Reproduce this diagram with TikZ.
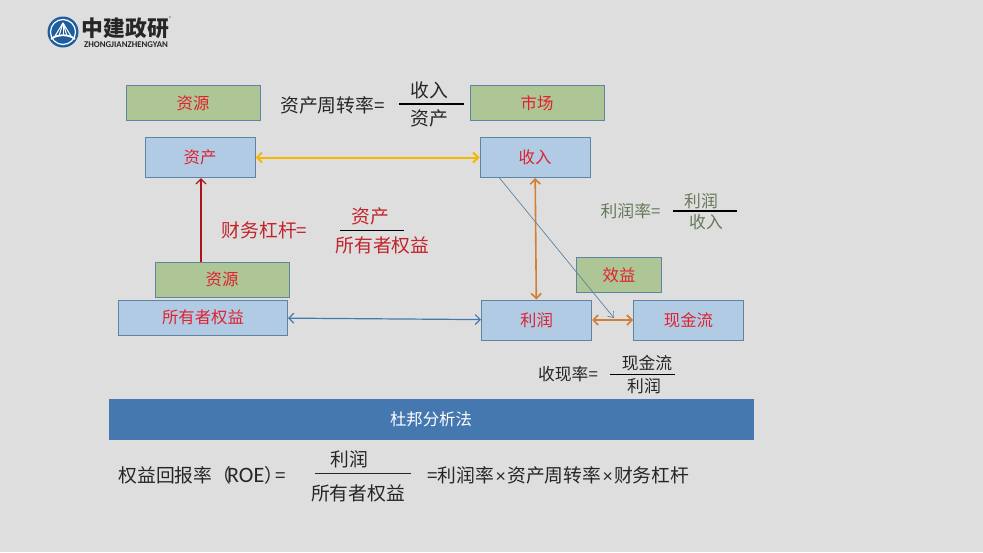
\documentclass[tikz,border=0pt]{standalone}
\usepackage{fontspec}
\setmainfont{Noto Sans CJK SC}
\newfontfamily\latinfont{Carlito}
\usepackage{tikz}
\usetikzlibrary{arrows.meta}
\definecolor{slidebg}{HTML}{DEDEDE}
\definecolor{boxblue}{HTML}{B2CBE4}
\definecolor{boxgreen}{HTML}{AEC596}
\definecolor{boxline}{HTML}{5E84A3}
\definecolor{bannerblue}{HTML}{4678B0}
\definecolor{boxred}{HTML}{E0222E}
\definecolor{darkred}{HTML}{A8161C}
\definecolor{leverred}{HTML}{C2242C}
\definecolor{olivetext}{HTML}{66795A}
\definecolor{inktext}{HTML}{262626}
\definecolor{logoblue}{HTML}{1F5E9E}
\definecolor{linkyellow}{HTML}{F5B800}
\definecolor{linkorange}{HTML}{D27F35}
\tikzset{
    bluebox/.style={draw=boxline, fill=boxblue, line width=0.5pt, text=boxred, font=\fontsize{8.2}{10}\selectfont, minimum width=55pt, minimum height=20pt, inner sep=0pt}, % 蓝色方框
    greenbox/.style={draw=boxline, fill=boxgreen, line width=0.5pt, text=boxred, font=\fontsize{8.2}{10}\selectfont, minimum width=67pt, minimum height=17.5pt, inner sep=0pt}, % 绿色方框
    formula/.style={inner sep=0pt, font=\fontsize{9.4}{11}\selectfont}, % 公式文字
    small formula/.style={inner sep=0pt, font=\fontsize{8.4}{10}\selectfont}, % 小号公式文字
    fracbar/.style={line width=0.6pt}, % 分数线
    both tips/.style={{Straight Barb[length=2.5pt,width=5pt]}-{Straight Barb[length=2.5pt,width=5pt]}}
}
\begin{document}
\begin{tikzpicture}[x=0.5pt, y=-0.5pt]
    \useasboundingbox (0,0) rectangle (983,552);
    \fill[slidebg] (0,0) rectangle (983,552);

    % logo
    \fill[logoblue] (63,32) circle (15.5);
    \draw[white, line width=0.6pt] (63,32) circle (12.5);
    \foreach \x in {-8,-4,0,4,8} {\draw[white, line width=0.5pt] (63,23) -- (63+\x,36);}
    \draw[white, line width=0.9pt] (51,39) .. controls (57,34) and (69,34) .. (75,39);
    \node[inner sep=0pt, text=black!85, font=\fontsize{10.9}{12}\selectfont\bfseries] (logoname) at (125.5,28) {中建政研};
    \node[inner sep=0pt, text=black!85, font=\fontsize{4.4}{5}\selectfont\latinfont\bfseries] (logopin) at (126,44.5) {ZHONGJIANZHENGYAN};
    \node[inner sep=0pt, text=black!60, font=\fontsize{2.5}{3}\selectfont] (logomark) at (170,19) {®};

    % boxes
    \node[greenbox] (res_a) at (193,103) {资源};
    \node[greenbox] (mkt) at (537,103) {市场};
    \node[bluebox] (asset) at (200,157.5) {资产};
    \node[bluebox] (income) at (535,157.5) {收入};
    \node[greenbox] (res_b) at (222,279.5) {资源};
    \node[bluebox, minimum width=84.5pt, minimum height=17.5pt] (equity) at (203,317.5) {所有者权益};
    \node[bluebox] (profit) at (536.5,320) {利润};
    \node[bluebox] (cash) at (688.5,320) {现金流};
    \node[greenbox, minimum width=42.5pt] (effect) at (619,275) {效益};
    \node[fill=bannerblue, text=white, inner sep=0pt, minimum width=322.5pt, minimum height=20.5pt, font=\fontsize{8.2}{10}\selectfont] (banner) at (431,419.5) {杜邦分析法};

    % arrows
    \draw[both tips, color=linkyellow, line width=1pt] (asset) -- (income);
    \draw[-{Straight Barb[length=2.5pt,width=5pt]}, darkred, line width=0.7pt] ([xshift=0.5pt]asset.south |- res_b.north) -- ([xshift=0.5pt]asset.south);
    \draw[both tips, color=bannerblue, line width=0.6pt] (equity) -- (profit);
    \draw[both tips, color=linkorange, line width=0.8pt] (income) -- (profit);
    \draw[both tips, color=linkorange, line width=0.8pt] (profit) -- (cash);
    \coordinate (flowend) at (614,318);
    \draw[-{Straight Barb[length=2.5pt,width=4pt]}, boxline, line width=0.35pt] ([xshift=10pt]income.south west) -- (flowend);

    % 资产周转率
    \node[formula, text=inktext] (turnname) at (332.5,105) {资产周转率=};
    \node[formula, text=inktext] (turntop) at (429,90) {收入};
    \node[formula, text=inktext] (turnbot) at (429,118) {资产};
    \draw[fracbar] (399,104) -- (464,104);

    % 财务杠杆
    \node[formula, text=leverred] (levername) at (264.5,230) {财务杠杆=};
    \node[formula, text=leverred] (levertop) at (370,216) {资产};
    \node[formula, text=leverred] (leverbot) at (382.5,245) {所有者权益};
    \draw[fracbar] (340,230.5) -- (404,230.5);

    % 利润率
    \node[small formula, text=olivetext] (marginname) at (630.5,211) {利润率=};
    \node[small formula, text=olivetext] (margintop) at (701,201) {利润};
    \node[small formula, text=olivetext] (marginbot) at (706,222) {收入};
    \draw[fracbar] (673,211) -- (737,211);

    % 收现率
    \node[small formula, text=inktext] (cashname) at (568,374) {收现率=};
    \node[small formula, text=inktext] (cashtop) at (647,363) {现金流};
    \node[small formula, text=inktext] (cashbot) at (644,386) {利润};
    \draw[fracbar] (610,374.5) -- (675,374.5);

    % 权益回报率
    \node[formula, text=inktext, anchor=west] (roename) at (118,475) {权益回报率（\kern-2pt{\latinfont\fontsize{11}{11}\selectfont ROE}）\kern-4pt=};
    \node[formula, text=inktext] (roetop) at (349,459) {利润};
    \node[formula, text=inktext] (roebot) at (358,493) {所有者权益};
    \draw[inktext, line width=0.3pt] (315,473.5) -- (411,473.5);
    \node[formula, text=inktext, anchor=west] (roeprod) at (427,475) {=利润率\kern0.9pt{\latinfont ×}\kern0.9pt资产周转率\kern0.9pt{\latinfont ×}\kern0.9pt财务杠杆};
\end{tikzpicture}
\end{document}
